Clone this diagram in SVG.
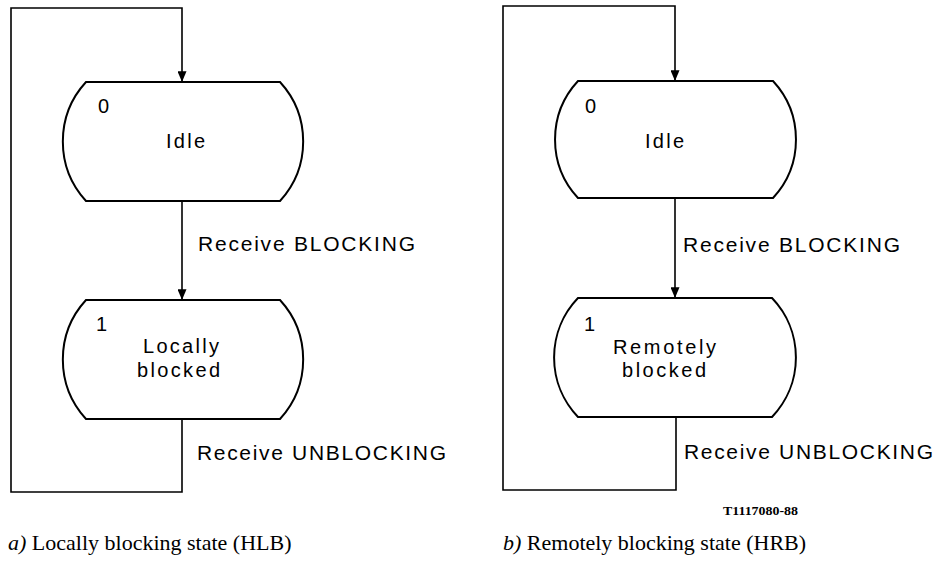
<svg xmlns="http://www.w3.org/2000/svg" width="943" height="562" viewBox="0 0 943 562">
<style>
.node{fill:#fff;stroke:#000;stroke-width:2}
.conn{fill:none;stroke:#000;stroke-width:1.6}
.t{font-family:"Liberation Sans",Arial,sans-serif;font-size:20px;fill:#000}
.lbl{font-family:"Liberation Sans",Arial,sans-serif;font-size:21px;fill:#000}
.cap{font-family:"Liberation Serif","Times New Roman",serif;font-size:22px;fill:#000}
.ref{font-family:"Liberation Serif","Times New Roman",serif;font-size:13px;font-weight:bold;fill:#000}
</style>
<defs>
<marker id="arr" viewBox="0 0 12 10" refX="12" refY="5" markerWidth="11" markerHeight="9" markerUnits="userSpaceOnUse" orient="auto">
<path d="M0,0 L12,5 L0,10 Z" fill="#000"/>
</marker>
</defs>
<rect width="943" height="562" fill="#fff"/>
<g id="a_idle">
<path class="node" d="M86,82 L280,82 A88,88 0 0 1 280,201 L86,201 A88,88 0 0 1 86,82 Z"/>
<text class="t" x="98" y="113">0</text>
<text class="t" x="166" y="148" textLength="39" lengthAdjust="spacing">Idle</text>
</g>
<g id="a_locally_blocked">
<path class="node" d="M86,300 L280,300 A88,88 0 0 1 280,419 L86,419 A88,88 0 0 1 86,300 Z"/>
<text class="t" x="96" y="331">1</text>
<text class="t" x="143" y="353" textLength="76" lengthAdjust="spacing">Locally</text>
<text class="t" x="137" y="377" textLength="83" lengthAdjust="spacing">blocked</text>
</g>
<g id="b_idle">
<path class="node" d="M578,81 L773,81 A86,86 0 0 1 773,198 L578,198 A86,86 0 0 1 578,81 Z"/>
<text class="t" x="585" y="113">0</text>
<text class="t" x="645" y="148" textLength="39" lengthAdjust="spacing">Idle</text>
</g>
<g id="b_remotely_blocked">
<path class="node" d="M578,298 L772,298 A86,86 0 0 1 772,417 L578,417 A86,86 0 0 1 578,298 Z"/>
<text class="t" x="584" y="331">1</text>
<text class="t" x="613" y="354" textLength="103" lengthAdjust="spacing">Remotely</text>
<text class="t" x="622" y="377" textLength="84" lengthAdjust="spacing">blocked</text>
</g>
<g id="connectors">
<path class="conn" d="M182,420 L182,492 L11,492 L11,8 L182,8 L182,82" marker-end="url(#arr)"/>
<path class="conn" d="M182,202 L182,300" marker-end="url(#arr)"/>
<path class="conn" d="M676,418 L676,490 L503,490 L503,6 L675,6 L675,81" marker-end="url(#arr)"/>
<path class="conn" d="M675,199 L675,298" marker-end="url(#arr)"/>
<text class="lbl" x="198" y="251" textLength="217" lengthAdjust="spacing">Receive BLOCKING</text>
<text class="lbl" x="197" y="460" textLength="249" lengthAdjust="spacing">Receive UNBLOCKING</text>
<text class="lbl" x="683" y="252" textLength="217" lengthAdjust="spacing">Receive BLOCKING</text>
<text class="lbl" x="684" y="459" textLength="249" lengthAdjust="spacing">Receive UNBLOCKING</text>
</g>
<text class="ref" x="723" y="515" textLength="75" lengthAdjust="spacingAndGlyphs">T1117080-88</text>
<text class="cap" x="8" y="550"><tspan font-style="italic">a)</tspan> Locally blocking state (HLB)</text>
<text class="cap" x="503" y="550"><tspan font-style="italic">b)</tspan> Remotely blocking state (HRB)</text>
</svg>
